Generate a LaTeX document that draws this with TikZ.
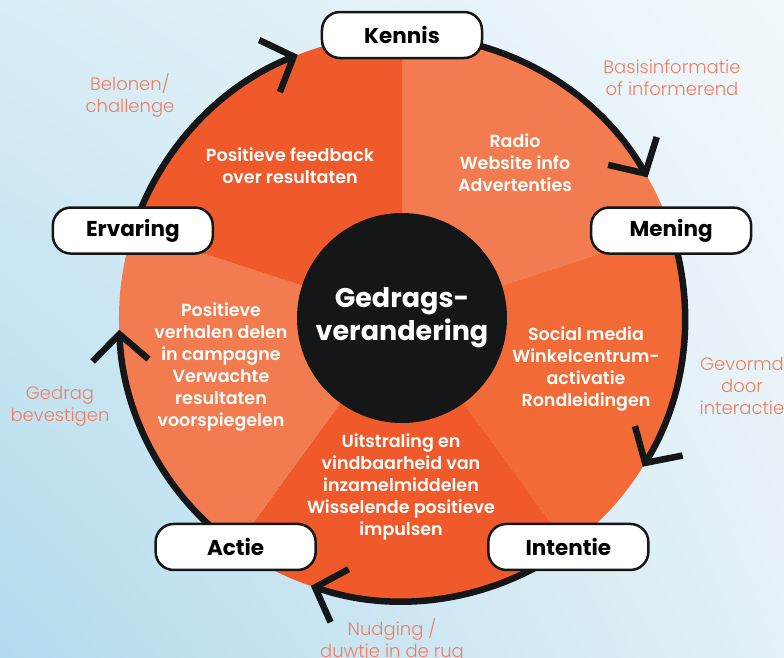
\documentclass[tikz,border=0pt]{standalone}
\usepackage{fontspec}
\setmainfont{Poppins}
\newfontfamily\semifont{Poppins SemiBold}
\newfontfamily\lightfont{Poppins Light}
\usepackage{tikz}
\usetikzlibrary{arrows.meta,backgrounds,shadings}
\definecolor{DarkOrange}{HTML}{F05A2A}
\definecolor{MidOrange}{HTML}{F26A36}
\definecolor{LightOrange}{HTML}{F37B50}
\definecolor{Salmon}{HTML}{F07F62}
\definecolor{RingBlack}{HTML}{151617}
\definecolor{SkyTL}{HTML}{D8EDF6}
\definecolor{SkyTR}{HTML}{F1F8FB}
\definecolor{SkyBL}{HTML}{B2DBED}
\definecolor{SkyBR}{HTML}{E4F1F7}

\begin{document}
\begin{tikzpicture}[
      x=1pt, y=1pt,
      stage/.style={draw=RingBlack, line width=2.5pt, fill=white, rounded corners=18pt, minimum width=160pt, minimum height=46pt, font=\bfseries\fontsize{21.5}{24}\selectfont},
      phase/.style={text=white, align=center, font=\semifont\fontsize{17.5}{22}\selectfont},
      hint/.style={text=Salmon, align=center, font=\lightfont\fontsize{18}{22}\selectfont},
      cyclearrow/.style={RingBlack, line width=6.5pt, -{Straight Barb[length=26pt, width=56pt]}}
    ]
      \useasboundingbox (-402,-339) rectangle (382,318);

      % Stage boxes
      \node[stage] (kennis) at (90:283) {Kennis};
      \node[stage] (mening) at (18:283) {Mening};
      \node[stage] (intentie) at (-54:283) {Intentie};
      \node[stage] (actie) at (-126:283) {Actie};
      \node[stage] (ervaring) at (162:283) {Ervaring};

      % Centre
      \node[circle, fill=RingBlack, minimum size=210pt, text=white, align=center, font=\bfseries\fontsize{27}{33}\selectfont] (core) at (0,0) {Gedrags-\\verandering};

      % Sector texts
      \node[phase] (feedback) at (-112,152) {Positieve feedback\\over resultaten};
      \node[phase] (media) at (113,155) {Radio\\Website info\\Advertenties};
      \node[phase] (social) at (184,-51) {Social media\\Winkelcentrum-\\activatie\\Rondleidingen};
      \node[phase] (uitstraling) at (-1,-169) {Uitstraling en\\vindbaarheid van\\inzamelmiddelen\\Wisselende positieve\\impulsen};
      \node[phase] (verhalen) at (-181,-49) {Positieve\\verhalen delen\\in campagne\\Verwachte\\resultaten\\voorspiegelen};

      % Outer labels
      \node[hint] (belonen) at (-272,223) {Belonen/\\challenge};
      \node[hint] (basis) at (270,240) {Basisinformatie\\of informerend};
      \node[hint] (gevormd) at (340,-68) {Gevormd\\door\\interactie};
      \node[hint] (gedrag) at (-342,-88) {Gedrag\\bevestigen};
      \node[hint] (nudging) at (-10,-322) {Nudging /\\duwtje in de rug};

      \begin{scope}[on background layer]
        % Background
        \shade[upper left=SkyTL, upper right=SkyTR, lower left=SkyBL, lower right=SkyBR] (-402,-339) rectangle (382,318);
        % Pie sectors
        \foreach \a/\c in {90/LightOrange, 18/MidOrange, -54/DarkOrange, -126/LightOrange, 162/DarkOrange}
          \fill[\c] (0,0) -- (\a:283) arc[start angle=\a, delta angle=-72, radius=283] -- cycle;
        % Cycle arrows
        \draw[cyclearrow] (kennis.center) arc[start angle=90, end angle=29.8, radius=283];
        \draw[cyclearrow] (mening.center) arc[start angle=18, end angle=-31.7, radius=283];
        \draw[cyclearrow] (intentie.center) arc[start angle=-54, end angle=-108.8, radius=283];
        \draw[cyclearrow] (actie.center) arc[start angle=-126, end angle=-177.6, radius=283];
        \draw[cyclearrow] (ervaring.center) arc[start angle=162, end angle=111.6, radius=283];
      \end{scope}

    \end{tikzpicture}
\end{document}
